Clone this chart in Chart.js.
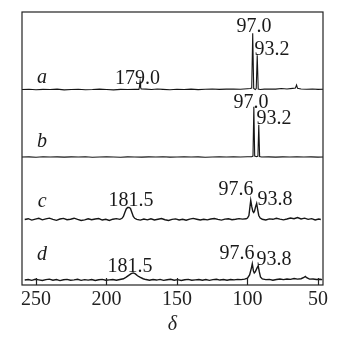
<!DOCTYPE html>
<html>
<head>
<meta charset="utf-8">
<script src="https://cdn.jsdelivr.net/npm/chart.js@4/dist/chart.umd.min.js"></script>
<style>
  html, body { margin: 0; padding: 0; background: #fff; }
  #wrap { width: 344px; height: 343px; }
</style>
</head>
<body>
<div id="wrap"><canvas id="nmrChart"></canvas></div>
<script>
// chemical shift axis, ppm
var tickValues = [250, 200, 150, 100, 50];
var axisMin = 46.45, axisMax = 259.93;

// trace names and the vertical offset of each baseline
var traceNames = ['a', 'b', 'c', 'd'];
var traceOffsets = [194, 127, 65, 5];

// [shift, intensity]
var spectrumA = [[260,0],[255,0.3],[250,-0.2],[245,0.2],[240,0],[235,0.4],[230,-0.3],[225,0.1],[220,0.3],[215,-0.2],[210,0],[205,0.4],[200,0.1],[195,-0.3],[190,0.2],[185,0],[180,0.3],[177,0.2],[176.6,3],[176.2,8],[175.8,2],[175.4,0.5],[172,0.4],[168,0],[164,0.5],[160,0.2],[155,-0.2],[150,0.3],[145,0],[140,0.4],[135,-0.1],[130,0.3],[125,0.5],[120,0.2],[115,0.4],[110,0.6],[105,0.3],[100,0.8],[98,1],[97,1.5],[96.3,56],[95.6,1],[94.5,0],[93.8,1],[93.1,34],[92.4,0.5],[91,0],[88,0.4],[84,0.6],[80,0.4],[76,1],[72,0.6],[68,1.2],[66,1.5],[65.2,4.5],[64.5,1.2],[62,0.5],[58,0.3],[54,0.6],[50,0.2],[46,0.4]];
var spectrumB = [[260,0],[255,0.2],[250,-0.2],[245,0.3],[240,0],[235,0.2],[230,-0.1],[225,0.2],[220,0],[215,0.3],[210,-0.2],[205,0.1],[200,0.3],[195,0],[190,-0.2],[185,0.2],[180,0.1],[175,-0.1],[170,0.2],[165,0],[160,0.3],[155,-0.1],[150,0.1],[145,0.3],[140,0],[135,0.2],[130,-0.2],[125,0.1],[120,0.3],[115,0],[110,0.2],[105,0.1],[100,0.3],[97,0.3],[96.1,1],[95.5,50],[94.9,1],[93.5,0.3],[92.6,1],[92,32],[91.4,0.5],[90,0],[85,0.2],[80,-0.1],[75,0.2],[70,0.1],[65,0.3],[60,0],[55,0.2],[50,-0.1],[46,0.1]];
var spectrumC = [[258,0],[255.5,0.8],[253,-0.6],[250.5,0.4],[248,1.2],[245.5,-0.3],[243,0.6],[240.5,1.4],[238,0.2],[235.5,-0.8],[233,0.5],[230.5,1.1],[228,-0.2],[225.5,0.3],[223,1.3],[220.5,0.1],[218,-0.9],[215.5,-0.4],[213,0.7],[210.5,-0.2],[208,0.5],[205.5,1.0],[203,-0.5],[200.5,0.2],[198,-1.0],[195.5,0.3],[193,0.9],[190.5,0.2],[189,1.2],[188,3],[187,7],[186,10.5],[185,12],[184,12],[183,11],[182,7],[181,3],[180,1.2],[178.5,0.2],[176,-0.6],[173.5,0.5],[171,-0.3],[168.5,0.8],[166,-0.4],[163.5,0.3],[161,1.0],[158.5,-0.2],[156,-0.9],[153.5,0.1],[151,0.6],[148.5,-0.4],[146,0.2],[143.5,-0.7],[141,0.4],[138.5,1.1],[136,0.3],[133.5,-0.5],[131,0.2],[128.5,-0.3],[126,0.5],[123.5,1.0],[121,0.1],[118.5,-0.6],[116,0.4],[113.5,0.8],[111,-0.2],[108.5,0.3],[106,0.9],[103.5,0.4],[101,0.7],[100,1.5],[99,4],[98.3,12],[97.7,19],[97,13],[96.2,8],[95.6,7],[95,8.5],[94.2,13],[93.5,16],[92.8,10],[92,4],[91,1.5],[89.5,0.3],[87,-0.5],[84.5,0.6],[82,0.2],[79.5,1.2],[77,0.4],[74.5,-0.3],[72,0.5],[69.5,1.5],[67,0.8],[64.5,2.0],[62,0.6],[59.5,1.4],[57,0.2],[54.5,0.9],[52,-0.4],[49.5,0.5],[48,0]];
var spectrumD = [[258,0],[255.5,0.5],[253,-0.4],[250.5,0.7],[248,0.1],[245.5,-0.5],[243,0.3],[240.5,0.8],[238,-0.2],[235.5,0.4],[233,-0.6],[230.5,0.2],[228,0.6],[225.5,-0.3],[223,0.1],[220.5,0.7],[218,-0.4],[215.5,0.3],[213,-0.2],[210.5,0.5],[208,-0.5],[205.5,0.2],[203,0.6],[200.5,-0.3],[198,0.1],[195.5,0.4],[193,-0.2],[190.5,0.5],[188,1.2],[186,2.8],[184,4.8],[182.5,6.2],[181,7],[179.5,6],[178,4.2],[176,2.5],[174,1.2],[172,0.4],[169.5,-0.3],[167,0.5],[164.5,-0.1],[162,0.6],[159.5,-0.4],[157,0.2],[154.5,0.7],[152,-0.2],[149.5,0.3],[147,-0.5],[144.5,0.2],[142,0.6],[139.5,-0.3],[137,0.1],[134.5,0.5],[132,-0.2],[129.5,0.4],[127,-0.4],[124.5,0.3],[122,0.7],[119.5,-0.1],[117,0.4],[114.5,-0.3],[112,0.5],[109.5,0.1],[107,0.6],[104.5,0.3],[102,0.8],[100,1.8],[98.5,5],[97.2,12],[96.6,16],[95.8,9],[95.2,7],[94.5,8],[93.2,12],[92.4,14],[91.6,8],[90.8,3],[89.5,1],[87,0.3],[84.5,0.6],[82,-0.2],[79.5,0.5],[77,0.9],[74.5,0.3],[72,1.0],[69.5,0.6],[67,1.4],[64.5,0.8],[62,1.2],[60,2.5],[59,3.5],[58,2.2],[56,0.8],[53.5,1.0],[51,0.5],[48.5,0.7],[47,0.3]];

// trace letter position: [shift, height above baseline]
var nameSpots = [[245.7,7],[245.7,10],[245.7,12],[245.7,20]];
// peak labels: [trace, text, shift, height above baseline]
var peakLabels = [
  [0,'179.0',178.0,6],[0,'97.0',95.4,57],[0,'93.2',82.6,34],
  [1,'97.0',97.5,49],[1,'93.2',81.2,33],
  [2,'181.5',182.6,13],[2,'97.6',108.2,24],[2,'93.8',80.5,14],
  [3,'181.5',183.3,8],[3,'97.6',107.5,21],[3,'93.8',81.2,15]
];

var spectra = [spectrumA, spectrumB, spectrumC, spectrumD];
var lineWidths = [1.1, 1.1, 1.4, 1.4];

var datasets = spectra.map(function (s, i) {
  return {
    label: traceNames[i],
    data: s.map(function (p) { return { x: p[0], y: p[1] + traceOffsets[i] }; }),
    borderColor: '#161616',
    borderWidth: lineWidths[i],
    pointRadius: 0,
    tension: 0,
    fill: false
  };
});

var framePlugin = {
  id: 'frame',
  afterDatasetsDraw: function (chart) {
    var c = chart.ctx, a = chart.chartArea, xs = chart.scales.x, ys = chart.scales.y;
    c.save();
    c.strokeStyle = '#222';
    c.lineWidth = 1.2;
    c.strokeRect(a.left, a.top, a.right - a.left, a.bottom - a.top);
    tickValues.forEach(function (v) {
      var px = Math.round(xs.getPixelForValue(v)) + 0.5;
      c.beginPath();
      c.moveTo(px, a.bottom);
      c.lineTo(px, a.bottom - 7);
      c.stroke();
    });
    c.fillStyle = '#1a1a1a';
    c.textAlign = 'center';
    c.textBaseline = 'alphabetic';
    c.font = 'italic 20px "Liberation Serif"';
    nameSpots.forEach(function (s, i) {
      c.fillText(traceNames[i], xs.getPixelForValue(s[0]), ys.getPixelForValue(traceOffsets[i] + s[1]));
    });
    c.font = '20px "Liberation Serif"';
    peakLabels.forEach(function (l) {
      c.fillText(l[1], xs.getPixelForValue(l[2]), ys.getPixelForValue(traceOffsets[l[0]] + l[3]));
    });
    c.restore();
  }
};

new Chart(document.getElementById('nmrChart'), {
  type: 'line',
  data: { datasets: datasets },
  options: {
    responsive: true,
    maintainAspectRatio: false,
    animation: false,
    layout: { padding: { left: 22, right: 21, top: 12, bottom: 8 } },
    plugins: { legend: { display: false }, tooltip: { enabled: false } },
    scales: {
      x: {
        type: 'linear',
        reverse: true,
        min: axisMin,
        max: axisMax,
        afterBuildTicks: function (scale) {
          scale.ticks = tickValues.map(function (v) { return { value: v }; });
        },
        grid: { display: false, drawTicks: false },
        border: { display: false },
        ticks: { color: '#222', padding: 5, maxRotation: 0, font: { family: 'Liberation Serif', size: 20, lineHeight: 1 } },
        title: { display: true, text: 'δ', color: '#222', padding: { top: 0, bottom: 0 }, font: { family: 'Liberation Serif', size: 20, style: 'italic', lineHeight: 1 } }
      },
      y: { display: false, min: 0, max: 271 }
    }
  },
  plugins: [framePlugin]
});
</script>
</body>
</html>
